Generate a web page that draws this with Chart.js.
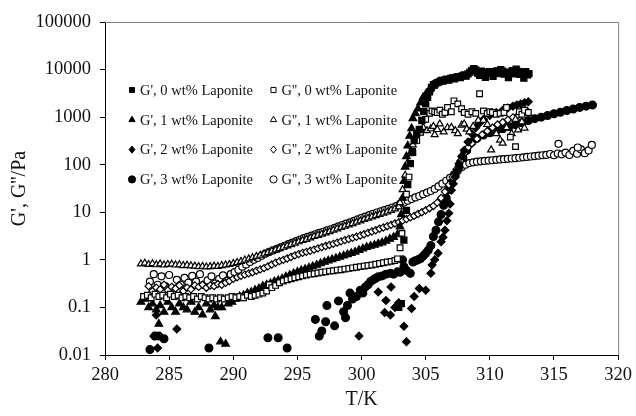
<!DOCTYPE html>
<html>
<head>
<meta charset="utf-8">
<script src="https://cdn.jsdelivr.net/npm/chart.js@4/dist/chart.umd.min.js"></script>
<style>
  body { margin: 0; background: #fff; }
  canvas { display: block; }
</style>
</head>
<body>
<canvas id="chart" width="636" height="416"></canvas>
<script>
// tick values / labels
const yTicks = [0.01, 0.1, 1, 10, 100, 1000, 10000, 100000];
const yTickLabels = ['0.01', '0.1', '1', '10', '100', '1000', '10000', '100000'];

// G', 0 wt%
const gp0T = [302.9, 303.1, 303.3, 303.5, 303.6, 303.8, 303.95, 304.1, 304.3, 304.5, 304.7, 304.85,
  305.0, 305.15, 305.3, 305.45, 305.6, 305.75, 305.9, 306.05, 306.2, 306.35, 306.5, 306.65, 306.8, 306.95,
  307.1, 307.25, 307.4, 307.55, 307.7, 307.85, 308.0, 308.15, 308.3, 308.45, 308.6, 308.75, 308.9, 309.05,
  309.2, 309.35, 309.5, 309.65, 309.8, 309.95, 310.1, 310.25, 310.4, 310.55, 310.7, 310.85, 311.0, 311.15,
  311.3, 311.45, 311.6, 311.75, 311.9, 312.05, 312.2, 312.35, 312.5, 312.65, 312.8, 312.95, 313.05];
const gp0 = [0.1, 0.12, 2.6, 11, 38, 105, 190, 320, 450, 550, 850, 1300,
  1900, 2600, 3400, 4200, 4800, 5000, 5300, 5500, 5900, 5700, 6100, 6300, 6000, 6500,
  6700, 6400, 6900, 7100, 6800, 7400, 7700, 7300, 8100, 8800, 9600, 10500, 9800, 8400,
  7600, 9300, 8600, 6900, 8300, 9100, 8500, 7200, 8900, 9400, 8200, 10000, 9300, 8000,
  8800, 6800, 8400, 9500, 8100, 10200, 9200, 7900, 8700, 6600, 9000, 7700, 8200];

// G'', 0 wt%
const gpp0T = [283.0, 283.3, 283.6, 283.9, 284.2, 284.5, 284.8, 285.1, 285.4, 285.7,
  286.0, 286.3, 286.6, 286.9, 287.2, 287.5, 287.8, 288.1, 288.4, 288.7,
  289.0, 289.3, 289.6, 289.9, 290.2, 290.5, 290.8, 291.1, 291.4, 291.7,
  292.0, 292.3, 292.6, 292.8, 293.0,
  293.3, 293.6, 293.9, 294.2, 294.5, 294.8, 295.1, 295.4, 295.7, 296.0,
  296.3, 296.6, 296.9, 297.2, 297.5, 297.8, 298.1, 298.4, 298.7, 299.0,
  299.3, 299.6, 299.9, 300.2, 300.5, 300.8, 301.1, 301.4, 301.7, 302.0,
  302.3, 302.6,
  302.8, 303.0, 303.15, 303.5, 303.7, 304.0, 304.3, 304.6,
  305.0, 305.3, 305.5, 305.7, 305.9, 306.1, 306.3, 306.5, 306.7,
  307.0, 307.2, 307.5, 307.8, 308.0, 308.3, 308.6, 308.9,
  309.2, 309.5, 309.8, 310.0, 310.2, 310.5, 310.8,
  311.1, 311.3, 311.6, 312.0, 312.3, 312.5, 312.7, 313.0];
const gpp0 = [0.17, 0.18, 0.16, 0.19, 0.17, 0.18, 0.16, 0.19, 0.17, 0.18,
  0.16, 0.17, 0.16, 0.17, 0.15, 0.17, 0.16, 0.15, 0.16, 0.15,
  0.16, 0.15, 0.16, 0.17, 0.16, 0.17, 0.16, 0.18, 0.17, 0.18,
  0.19, 0.2, 0.22, 0.3, 0.26,
  0.29, 0.33, 0.36, 0.38, 0.4, 0.42, 0.44, 0.46, 0.48, 0.5,
  0.51, 0.53, 0.55, 0.56, 0.58, 0.59, 0.61, 0.62, 0.64, 0.66,
  0.68, 0.7, 0.72, 0.74, 0.76, 0.78, 0.81, 0.84, 0.87, 0.9,
  0.93, 0.97,
  1.05, 1.8, 3.6, 24, 55, 180, 320, 480,
  900, 1200, 1350, 1300, 1250, 1400, 1150, 1250, 1600,
  1300, 2200, 1900, 1500, 1250, 1150, 1300, 1200,
  3100, 1350, 1200, 1300, 1250, 1150, 1200,
  1250, 1600, 380, 240, 1300, 1150, 1400, 1250];

// G', 1 wt%
const gp1T = [282.8, 283.1, 283.4, 283.7, 284.0, 284.2, 284.3, 284.6, 284.9, 285.2,
  285.5, 285.8, 286.1, 286.4, 286.7, 287.0, 287.3, 287.6, 287.9, 288.2,
  288.5, 288.6, 288.8, 289.0, 289.1, 289.4, 289.6,
  289.9, 290.2, 290.5, 290.8, 291.1, 291.4, 291.7, 292.0, 292.3, 292.6,
  292.9, 293.2, 293.5, 293.8, 294.1, 294.4, 294.7, 295.0, 295.3, 295.6,
  295.9, 296.2, 296.5, 296.8, 297.1, 297.4, 297.7, 298.0, 298.3, 298.6,
  298.9, 299.2, 299.5, 299.8, 300.1, 300.4, 300.7, 301.0, 301.3, 301.6,
  301.9, 302.2, 302.5, 302.8,
  303.0, 303.1, 303.2, 303.3, 303.4, 303.5, 303.6, 303.75, 303.9, 304.0,
  304.2, 304.4, 304.6, 304.8, 305.0, 305.3, 305.6];
const gp1 = [0.13, 0.15, 0.1, 0.12, 0.09, 0.045, 0.11, 0.08, 0.13, 0.1,
  0.08, 0.12, 0.1, 0.09, 0.13, 0.08, 0.1, 0.07, 0.12, 0.09,
  0.11, 0.065, 0.1, 0.019, 0.1, 0.017, 0.12,
  0.13, 0.15, 0.17, 0.18, 0.2, 0.21, 0.23, 0.25, 0.28, 0.3,
  0.32, 0.35, 0.37, 0.4, 0.44, 0.48, 0.52, 0.56, 0.6, 0.64,
  0.68, 0.73, 0.78, 0.84, 0.9, 0.96, 1.02, 1.08, 1.15, 1.22,
  1.3, 1.38, 1.47, 1.6, 1.72, 1.85, 1.95, 2.05, 2.18, 2.3,
  2.5, 2.75, 3.0, 3.4,
  5, 9, 20, 45, 90, 150, 250, 400, 580, 940,
  1200, 1500, 2000, 2600, 3000, 3800, 4500];

// G'', 1 wt%
const gpp1T = [282.8, 283.1, 283.4, 283.7, 284.0, 284.3, 284.6, 284.9, 285.2, 285.5,
  285.8, 286.1, 286.4, 286.7, 287.0, 287.3, 287.6, 287.9, 288.2, 288.5,
  288.8, 289.1, 289.4, 289.7,
  290.0, 290.3, 290.6, 290.9, 291.2, 291.5, 291.8, 292.1, 292.4, 292.7,
  293.0, 293.3, 293.6, 293.9, 294.2, 294.5, 294.8, 295.1, 295.4, 295.7,
  296.0, 296.3, 296.6, 296.9, 297.2, 297.5, 297.8, 298.1, 298.4, 298.7,
  299.0, 299.3, 299.6, 299.9, 300.2, 300.5, 300.8, 301.1, 301.4, 301.7,
  302.0, 302.3, 302.6, 302.9,
  303.0, 303.2, 303.4, 303.6, 303.8, 304.0, 304.2, 304.5, 304.8, 305.1,
  305.4, 305.6, 305.7, 305.9, 306.1, 306.4, 306.7, 307.0, 307.3, 307.5,
  307.8, 308.0, 308.2, 308.4, 308.7, 309.1, 309.5, 309.8, 310.1, 310.5,
  310.8, 311.0, 311.3, 311.7, 312.0, 312.2, 312.5, 312.7, 313.0];
const gpp1 = [0.82, 0.85, 0.8, 0.83, 0.79, 0.82, 0.78, 0.8, 0.81, 0.78,
  0.79, 0.76, 0.77, 0.75, 0.74, 0.72, 0.73, 0.71, 0.72, 0.74,
  0.73, 0.76, 0.78, 0.8,
  0.84, 0.88, 0.93, 0.99, 1.05, 1.11, 1.18, 1.25, 1.33, 1.42,
  1.52, 1.62, 1.72, 1.84, 1.97, 2.1, 2.25, 2.4, 2.55, 2.7,
  2.9, 3.1, 3.28, 3.48, 3.7, 3.92, 4.2, 4.5, 4.8, 5.1,
  5.45, 5.8, 6.2, 6.6, 7.1, 7.55, 8.0, 8.5, 9.0, 9.6,
  10.2, 11.0, 11.8, 13,
  16, 30, 60, 110, 170, 260, 380, 480, 610, 520,
  570, 640, 430, 550, 720, 490, 600, 610, 520, 450,
  680, 720, 560, 490, 640, 860, 860, 700, 205, 450,
  330, 285, 600, 450, 900, 540, 800, 590, 1200];

// G', 2 wt%
const gp2T = [283.8, 284.0, 284.1, 285.6, 299.8, 301.3, 301.8, 301.9, 302.25, 302.3, 302.6, 302.9, 303.3,
  303.5, 303.9, 304.1, 304.5, 305.0, 305.4, 305.5, 305.7, 305.96, 306.2, 306.35, 306.5, 306.65, 306.8, 306.9,
  307.0, 307.15, 307.3, 307.45, 307.6, 307.8, 308.0, 308.3, 308.6, 308.9, 309.2, 309.5, 310.0, 310.5, 311.0,
  311.4, 311.8, 312.1, 312.4, 312.7, 313.0];
const gp2 = [0.025, 0.069, 0.014, 0.035, 0.025, 0.21, 0.078, 0.14, 0.069, 0.27, 0.1, 0.126, 0.04,
  0.019, 0.095, 0.17, 0.25, 0.23, 0.52, 0.78, 1.0, 1.37, 2.4, 3.0, 4.2, 6.6, 9.5, 15,
  29, 40, 55, 75, 105, 150, 200, 300, 450, 600, 750, 900, 1080, 1250, 1400,
  1550, 1700, 1800, 1900, 2000, 2100];

// G'', 2 wt%
const gpp2T = [283.4, 283.7, 284.0, 284.3, 284.6, 284.9, 285.2, 285.5, 285.8, 286.1,
  286.4, 286.7, 287.0, 287.3, 287.6, 287.9, 288.2, 288.5, 288.8, 289.1,
  289.4, 289.7,
  290.0, 290.3, 290.6, 290.9, 291.2, 291.5, 291.8, 292.1, 292.4, 292.7,
  293.0, 293.3, 293.6, 293.9, 294.2, 294.5, 294.8, 295.1, 295.4, 295.7,
  296.0, 296.3, 296.6, 296.9, 297.2, 297.5, 297.8, 298.1, 298.4, 298.7,
  299.0, 299.3, 299.6, 299.9, 300.2, 300.5, 300.8, 301.1, 301.4, 301.7,
  302.0, 302.3, 302.6, 302.9, 303.2, 303.5, 303.8, 304.1, 304.4, 304.7,
  305.0, 305.3, 305.6, 305.9,
  306.2, 306.5, 306.8, 307.1, 307.4, 307.7, 308.0, 308.3, 308.6, 309.0,
  309.4, 309.8, 310.2, 310.6, 311.0, 311.4, 311.8, 312.2, 312.6, 312.9];
const gpp2 = [0.28, 0.22, 0.26, 0.24, 0.3, 0.23, 0.27, 0.25, 0.29, 0.22,
  0.26, 0.24, 0.29, 0.27, 0.3, 0.26, 0.29, 0.28, 0.31, 0.3,
  0.33, 0.36,
  0.4, 0.43, 0.46, 0.49, 0.52, 0.55, 0.59, 0.63, 0.67, 0.73,
  0.8, 0.87, 0.94, 1.0, 1.07, 1.15, 1.24, 1.32, 1.4, 1.47,
  1.55, 1.64, 1.74, 1.85, 1.95, 2.05, 2.17, 2.3, 2.45, 2.6,
  2.75, 2.9, 3.05, 3.25, 3.45, 3.7, 3.95, 4.2, 4.5, 4.8,
  5.1, 5.45, 5.8, 6.2, 6.7, 7.2, 7.8, 8.4, 9.2, 10,
  11, 12.2, 13.6, 16,
  20, 27, 38, 55, 80, 120, 175, 230, 280, 350,
  430, 510, 600, 700, 780, 880, 990, 1100, 1250, 1350];

// G', 3 wt%
const gp3T = [283.5, 283.9, 284.2, 284.6, 288.1, 292.7, 293.5, 294.2, 296.4, 296.7, 296.9, 297.2, 297.3,
  297.9, 298.2, 298.6, 298.75, 298.9, 299.1, 299.3, 299.6, 299.9, 300.1, 300.3, 300.5, 300.7, 300.9, 301.1,
  301.3, 301.6, 301.9, 302.25, 302.5, 302.8, 303.0, 303.2, 303.3, 303.5, 303.8, 304.0, 304.2, 304.4, 304.6,
  304.8, 305.0, 305.2, 305.4, 305.6, 305.8, 306.0, 306.2, 306.4, 306.6, 306.8, 307.0, 307.3, 307.6, 307.9,
  308.2, 308.6, 309.0, 309.5, 310.0, 310.5, 311.0, 311.5, 312.0, 312.5, 313.0, 313.5, 314.0, 314.5, 315.0,
  315.5, 316.0, 316.5, 317.0, 317.5, 318.0];
const gp3 = [0.013, 0.025, 0.025, 0.022, 0.014, 0.023, 0.023, 0.014, 0.056, 0.025, 0.032, 0.05, 0.11,
  0.041, 0.137, 0.081, 0.061, 0.11, 0.2, 0.15, 0.17, 0.23, 0.2, 0.27, 0.3, 0.35, 0.38, 0.41,
  0.44, 0.46, 0.5, 0.52, 0.5, 0.56, 0.55, 1.0, 0.72, 0.6, 0.52, 0.9, 0.96, 1.0, 1.07,
  1.2, 1.37, 1.6, 2.0, 3.1, 4.2, 6.3, 9, 14, 20, 30, 42, 60, 90, 140,
  200, 300, 360, 420, 470, 520, 570, 630, 700, 760, 850, 930, 1000, 1080, 1180,
  1270, 1380, 1480, 1600, 1700, 1800];

// G'', 3 wt%
const gpp3T = [283.5, 283.8, 284.1, 284.4, 284.7, 285.0, 285.3, 285.6, 285.9, 286.2,
  286.5, 286.8, 287.1, 287.4, 287.7, 288.0, 288.3, 288.6, 288.9, 289.2,
  289.5, 289.8,
  290.1, 290.4, 290.7, 291.0, 291.3, 291.6, 291.9, 292.2, 292.5, 292.8,
  293.1, 293.4, 293.7, 294.0, 294.3, 294.6, 294.9, 295.2, 295.5, 295.8,
  296.1, 296.4, 296.7, 297.0, 297.3, 297.6, 297.9, 298.2, 298.5, 298.8,
  299.1, 299.4, 299.7, 300.0, 300.3, 300.6, 300.9, 301.2, 301.5, 301.8,
  302.1, 302.4, 302.7, 303.0,
  303.3, 303.6, 303.9, 304.2, 304.5, 304.8, 305.1, 305.4, 305.7, 306.0,
  306.3, 306.6, 306.9, 307.2, 307.5, 307.8, 308.1,
  308.4, 308.7, 309.0, 309.3, 309.6, 309.9, 310.2, 310.5, 310.8, 311.1,
  311.4, 311.7, 312.0, 312.3, 312.6, 312.9, 313.2, 313.5, 313.8, 314.1,
  314.4, 314.7, 315.0, 315.3, 315.6, 315.9, 316.2, 316.5, 316.8, 317.1,
  317.4, 317.7, 315.35, 316.85, 317.95];
const gpp3 = [0.35, 0.5, 0.3, 0.45, 0.28, 0.48, 0.25, 0.38, 0.3, 0.42,
  0.33, 0.46, 0.35, 0.5, 0.3, 0.37, 0.45, 0.32, 0.4, 0.47,
  0.36, 0.5,
  0.55, 0.62, 0.72, 0.8, 0.9, 1.0, 1.1, 1.22, 1.35, 1.47,
  1.58, 1.7, 1.83, 1.98, 2.15, 2.3, 2.48, 2.68, 2.85, 3.05,
  3.22, 3.45, 3.68, 3.9, 4.15, 4.4, 4.7, 5.05, 5.4, 5.75,
  6.15, 6.6, 7.1, 7.6, 8.1, 8.7, 9.3, 9.9, 10.5, 11.1,
  11.8, 12.6, 13.5, 15,
  16, 17.5, 19, 20.5, 22, 24, 26, 28, 31, 35,
  40, 46, 53, 62, 75, 88, 100,
  108, 112, 116, 118, 120, 122, 124, 127, 129, 131,
  133, 135, 137, 140, 143, 146, 149, 152, 155, 158,
  161, 168, 158, 172, 165, 180, 160, 195, 170, 210,
  175, 200, 275, 230, 260];

const seriesNames = [
  "G', 0 wt% Laponite", "G'', 0 wt% Laponite",
  "G', 1 wt% Laponite", "G'', 1 wt% Laponite",
  "G', 2 wt% Laponite", "G'', 2 wt% Laponite",
  "G', 3 wt% Laponite", "G'', 3 wt% Laponite"
];

function pts(T, V) {
    return T.map((t, i) => ({x: t, y: V[i]}));
}

const styles = [
    {shape: 'rect', r: 4.3, fill: '#000'},
    {shape: 'rect', r: 4.0, fill: '#fff'},
    {shape: 'triangle', r: 4.4, fill: '#000'},
    {shape: 'triangle', r: 4.0, fill: '#fff'},
    {shape: 'rectRot', r: 3.9, fill: '#000'},
    {shape: 'rectRot', r: 3.6, fill: '#fff'},
    {shape: 'circle', r: 3.9, fill: '#000'},
    {shape: 'circle', r: 3.5, fill: '#fff'}
];

const allData = [
    pts(gp0T, gp0), pts(gpp0T, gpp0),
    pts(gp1T, gp1), pts(gpp1T, gpp1),
    pts(gp2T, gp2), pts(gpp2T, gpp2),
    pts(gp3T, gp3), pts(gpp3T, gpp3)
];

const datasets = allData.map((d, i) => ({
    label: seriesNames[i],
    data: d,
    showLine: false,
    pointStyle: styles[i].shape,
    pointRadius: styles[i].r,
    pointBackgroundColor: styles[i].fill,
    pointBorderColor: '#000',
    pointBorderWidth: 1.2,
    clip: false
}));

// small legend inside the plot area, two columns
function drawMarker(ctx, shape, x, y, r) {
    ctx.beginPath();
    if (shape === 'rect') {
        let s = r * Math.SQRT1_2;
        ctx.rect(x - s, y - s, 2 * s, 2 * s);
    } else if (shape === 'triangle') {
        ctx.moveTo(x, y - r);
        ctx.lineTo(x + r * 0.866, y + r * 0.5);
        ctx.lineTo(x - r * 0.866, y + r * 0.5);
        ctx.closePath();
    } else if (shape === 'rectRot') {
        ctx.moveTo(x, y - r);
        ctx.lineTo(x + r * 0.8, y);
        ctx.lineTo(x, y + r);
        ctx.lineTo(x - r * 0.8, y);
        ctx.closePath();
    } else {
        ctx.arc(x, y, r, 0, Math.PI * 2);
    }
    ctx.fill();
    ctx.stroke();
}

const innerLegend = {
    id: 'innerLegend',
    afterDraw(chart) {
        const ctx = chart.ctx;
        const area = chart.chartArea;
        ctx.save();
        // thin grey frame on top and right
        ctx.strokeStyle = '#808080';
        ctx.lineWidth = 1;
        ctx.beginPath();
        ctx.moveTo(area.left, area.top + 0.5);
        ctx.lineTo(area.right + 0.5, area.top + 0.5);
        ctx.lineTo(area.right + 0.5, area.bottom);
        ctx.stroke();

        ctx.font = '14.5px "Liberation Serif"';
        ctx.textBaseline = 'middle';
        ctx.textAlign = 'left';
        chart.data.datasets.forEach((ds, i) => {
            let col = i % 2;
            let row = Math.floor(i / 2);
            let mx = area.left + (col ? 168.5 : 27);
            let y = area.top + 68 + row * 29.8;
            ctx.fillStyle = styles[i].fill;
            ctx.strokeStyle = '#000';
            ctx.lineWidth = 1;
            drawMarker(ctx, styles[i].shape, mx, y, 3.6);
            ctx.fillStyle = '#111';
            ctx.fillText(ds.label, mx + 8, y + 1);
        });
        ctx.restore();
    }
};

Chart.defaults.font.family = '"Liberation Serif", "Times New Roman", serif';
Chart.defaults.color = '#111';

new Chart(document.getElementById('chart'), {
    type: 'scatter',
    data: {datasets: datasets},
    options: {
        responsive: false,
        animation: false,
        devicePixelRatio: 1,
        layout: {
            padding: {top: 22, right: 16, bottom: 0, left: 0}
        },
        plugins: {
            legend: {display: false},
            tooltip: {enabled: false}
        },
        scales: {
            x: {
                type: 'linear',
                min: 280,
                max: 320,
                afterFit: (s) => { s.height = 61; },
                ticks: {stepSize: 5, padding: 4, font: {size: 18.5}, color: '#111'},
                grid: {drawOnChartArea: false, tickLength: 5, color: '#000'},
                border: {color: '#000', width: 1},
                title: {display: true, text: 'T/K', font: {size: 20}, color: '#111', padding: {top: 0, bottom: 4}}
            },
            y: {
                type: 'logarithmic',
                min: 0.01,
                max: 100000,
                afterBuildTicks: (s) => { s.ticks = yTicks.map(v => ({value: v})); },
                afterFit: (s) => { s.width = 105; },
                ticks: {
                    padding: 9,
                    font: {size: 18.5},
                    color: '#111',
                    callback: (v, i) => yTickLabels[i]
                },
                grid: {drawOnChartArea: false, tickLength: 5, color: '#000'},
                border: {color: '#000', width: 1},
                title: {display: true, text: "G', G''/Pa", font: {size: 20}, color: '#111', padding: {top: 8, bottom: 0}}
            }
        }
    },
    plugins: [innerLegend]
});
</script>
</body>
</html>
